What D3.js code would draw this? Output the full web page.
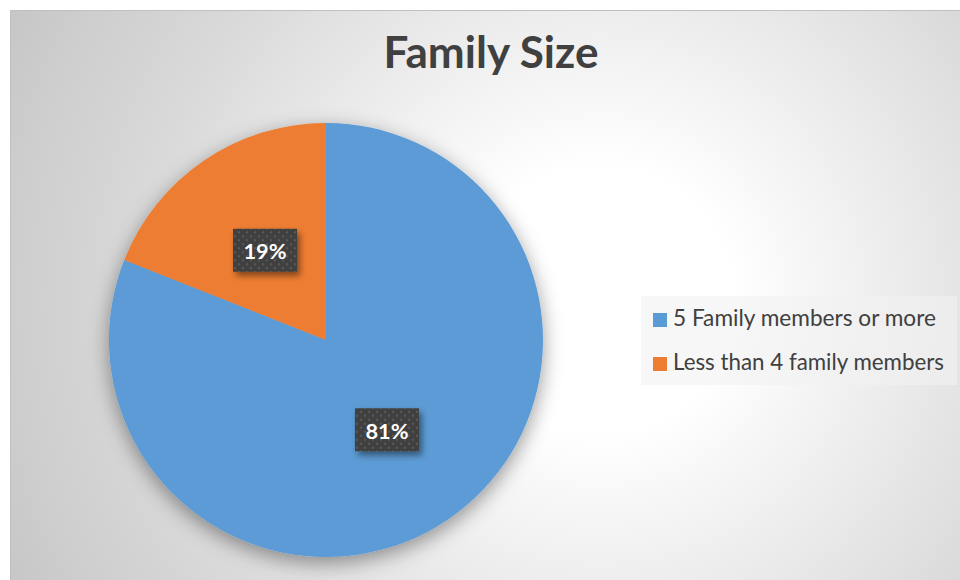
<!DOCTYPE html>
<html>
<head>
<meta charset="utf-8">
<script src="https://cdn.jsdelivr.net/npm/d3@7"></script>
<style>
  html, body { margin: 0; padding: 0; background: #fff; }
  svg { display: block; }
</style>
</head>
<body>
<script>
var categories = ["5 Family members or more", "Less than 4 family members"];
var values = [81, 19];
var sliceColors = ["#5B9BD5", "#ED7D31"];
var title = "Family Size";

var width = 960, height = 580;
var font = "Lato, 'Open Sans', sans-serif";

var svg = d3.select("body").append("svg")
    .attr("width", width)
    .attr("height", height);

var defs = svg.append("defs");

// background gradient, white near the right of the pie
var bg = defs.append("radialGradient")
    .attr("id", "bg")
    .attr("gradientUnits", "userSpaceOnUse")
    .attr("cx", 600).attr("cy", 300).attr("r", 660);
[[0, "#ffffff"], [0.2, "#ffffff"], [0.4, "#f0f0f0"], [0.7, "#d9d9d9"], [0.9, "#cdcdcd"], [1, "#c6c6c6"]]
  .forEach(function(s) {
    bg.append("stop").attr("offset", s[0]).attr("stop-color", s[1]);
  });

var pieShadow = defs.append("filter").attr("id", "pieShadow")
    .attr("x", "-30%").attr("y", "-30%").attr("width", "160%").attr("height", "160%");
pieShadow.append("feDropShadow")
    .attr("dx", 0).attr("dy", 6).attr("stdDeviation", 10)
    .attr("flood-color", "#000").attr("flood-opacity", 0.4);

var boxShadow = defs.append("filter").attr("id", "boxShadow")
    .attr("x", "-30%").attr("y", "-30%").attr("width", "160%").attr("height", "160%");
boxShadow.append("feDropShadow")
    .attr("dx", 3).attr("dy", 4).attr("stdDeviation", 3)
    .attr("flood-color", "#000").attr("flood-opacity", 0.45);

var dots = defs.append("pattern").attr("id", "dots")
    .attr("patternUnits", "userSpaceOnUse")
    .attr("width", 8).attr("height", 8);
dots.append("rect").attr("width", 8).attr("height", 8).attr("fill", "#404040");
dots.append("rect").attr("x", 1).attr("y", 1).attr("width", 2).attr("height", 2).attr("fill", "#585858");
dots.append("rect").attr("x", 5).attr("y", 5).attr("width", 2).attr("height", 2).attr("fill", "#585858");

// chart area
svg.append("rect")
    .attr("x", 10.5).attr("y", 10.5)
    .attr("width", width - 10).attr("height", height - 10)
    .attr("fill", "url(#bg)")
    .attr("stroke", "#c0c0c0");

// fit text to a measured width
function fitText(sel, size, target) {
  sel.style("font-size", size + "px");
  var w = sel.node().getComputedTextLength();
  sel.style("font-size", (size * target / w).toFixed(2) + "px");
}

var titleText = svg.append("text")
    .attr("x", 491).attr("y", 68)
    .attr("text-anchor", "middle")
    .style("font-family", font)
    .style("font-weight", "bold")
    .style("fill", "#404040")
    .text(title);
fitText(titleText, 34, 215);

// pie
var cx = 326, cy = 340, radius = 217;
var pie = d3.pie().sort(null).value(function(d) { return d; });
var arc = d3.arc().innerRadius(0).outerRadius(radius);
var arcs = pie(values);

var g = svg.append("g").attr("transform", "translate(" + cx + "," + cy + ")");

g.append("g")
    .attr("filter", "url(#pieShadow)")
  .selectAll("path")
  .data(arcs)
  .enter()
  .append("path")
    .attr("d", arc)
    .attr("fill", function(d, i) { return sliceColors[i]; });

var labels = g.selectAll(".label")
  .data(arcs)
  .enter()
  .append("g")
    .attr("class", "label")
    .attr("transform", function(d) {
      var c = arc.centroid(d);
      return "translate(" + c[0] + "," + c[1] + ")";
    });

labels.append("rect")
    .attr("x", -32).attr("y", -21.5)
    .attr("width", 64).attr("height", 43)
    .attr("fill", "url(#dots)")
    .attr("filter", "url(#boxShadow)");

labels.append("text")
    .attr("text-anchor", "middle")
    .attr("y", 9)
    .style("font-family", font)
    .style("font-weight", "bold")
    .style("fill", "#ffffff")
    .text(function(d) { return d.data + "%"; })
    .each(function() { fitText(d3.select(this), 22, 43); });

// legend
var legend = svg.append("g");
legend.append("rect")
    .attr("x", 641).attr("y", 296)
    .attr("width", 316).attr("height", 89)
    .attr("fill", "#f2f2f2")
    .attr("fill-opacity", 0.6);

var legendRows = [263, 271];
var items = legend.selectAll(".item")
  .data(categories)
  .enter()
  .append("g")
    .attr("class", "item")
    .attr("transform", function(d, i) { return "translate(653," + (313 + i * 44) + ")"; });

items.append("rect")
    .attr("width", 14).attr("height", 14)
    .attr("fill", function(d, i) { return sliceColors[i]; });

items.append("text")
    .attr("x", 20).attr("y", 12.5)
    .style("font-family", font)
    .style("fill", "#404040")
    .text(function(d) { return d; })
    .each(function(d, i) { fitText(d3.select(this), 19, legendRows[i]); });
</script>
</body>
</html>
